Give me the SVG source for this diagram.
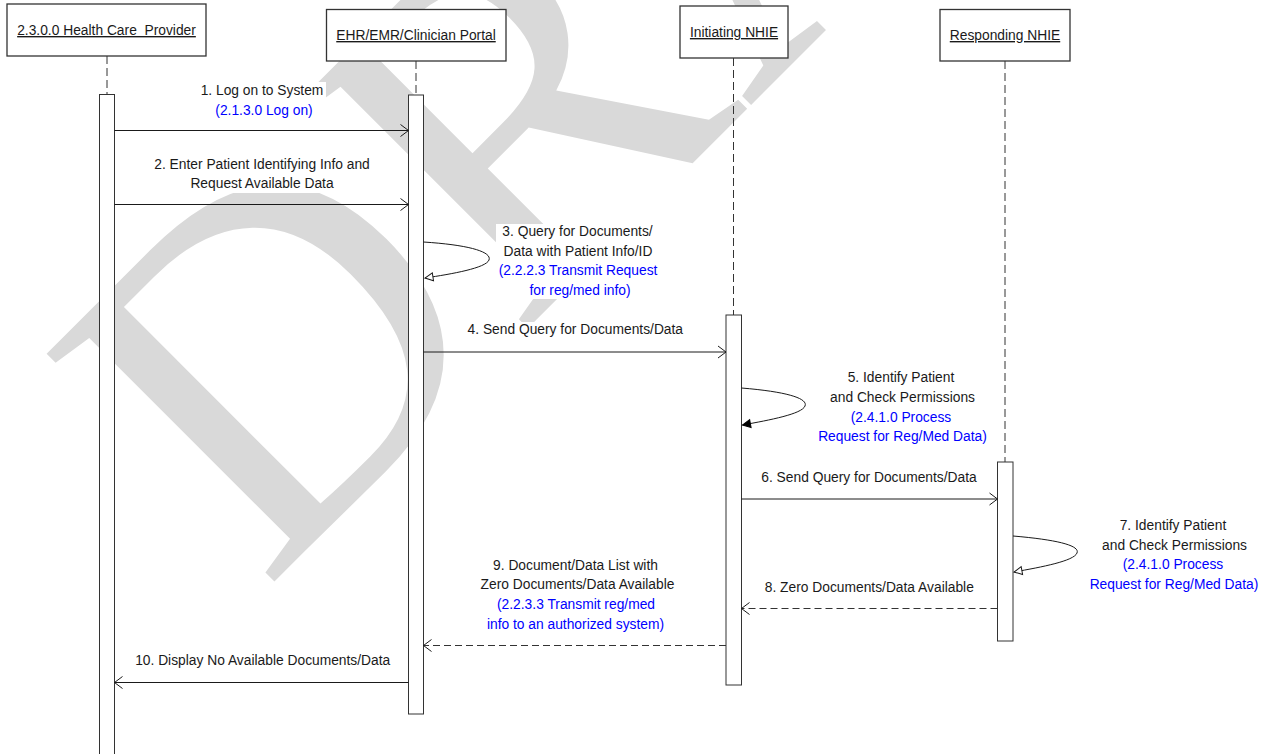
<svg xmlns="http://www.w3.org/2000/svg" width="1270" height="754" viewBox="0 0 1270 754">
<style>
.box{fill:#fff;stroke:#333;stroke-width:1.3}
.bar{fill:#fff;stroke:#333;stroke-width:1}
.life{stroke:#333;stroke-width:1;stroke-dasharray:8 4;fill:none}
.msg{stroke:#1a1a1a;stroke-width:1;fill:none}
.dash{stroke:#333;stroke-dasharray:7 4}
.t{font-family:"Liberation Sans",Arial,sans-serif;font-size:13.8px;fill:#1a1a1a;text-anchor:middle;white-space:pre}
.b{fill:#0000ff}
.u{text-decoration:underline}
.bg{fill:#fff}
.wm{font-family:"Liberation Serif","Times New Roman",serif;font-size:492px;fill:#d9d9d9}
</style>
<defs>
<marker id="open" viewBox="-10 -8 12 16" refX="0" refY="0" markerWidth="12" markerHeight="16" markerUnits="userSpaceOnUse" orient="auto"><path d="M-8,-6 L0,0 L-8,6" fill="none" stroke="#1a1a1a" stroke-width="1"/></marker>
<marker id="hollow" viewBox="-10 -6 12 12" refX="0" refY="0" markerWidth="12" markerHeight="12" markerUnits="userSpaceOnUse" orient="auto"><path d="M-8,-4 L0,0 L-8,4 Z" fill="#fff" stroke="#1a1a1a" stroke-width="1"/></marker>
<marker id="filled" viewBox="-10 -6 12 12" refX="0" refY="0" markerWidth="12" markerHeight="12" markerUnits="userSpaceOnUse" orient="auto"><path d="M-8,-4 L0,0 L-8,4 Z" fill="#000" stroke="#000" stroke-width="1"/></marker>
</defs>
<rect width="1270" height="754" fill="#fff"/>
<g id="watermark"><text class="wm" transform="translate(264.4,591.6) rotate(-45)">DRAFT</text></g>

<g id="lifelines">
<line class="life" x1="107" y1="56" x2="107" y2="94.5"/>
<line class="life" x1="416" y1="61" x2="416" y2="95"/>
<line class="life" x1="733.5" y1="58" x2="733.5" y2="315"/>
<line class="life" x1="1005" y1="61" x2="1005" y2="462"/>
</g>

<g id="provider">
<rect class="box" x="7" y="4" width="199" height="52"/>
<text class="t u" x="106.5" y="35">2.3.0.0 Health Care  Provider</text>
<rect class="bar" x="99.5" y="94.5" width="15" height="700"/>
</g>
<g id="ehr">
<rect class="box" x="326.5" y="9.5" width="179.5" height="51.5"/>
<text class="t u" x="416" y="40">EHR/EMR/Clinician Portal</text>
<rect class="bar" x="408.5" y="95" width="15" height="619"/>
</g>
<g id="initiating">
<rect class="box" x="680" y="6" width="108" height="52"/>
<text class="t u" x="734" y="37">Initiating NHIE</text>
<rect class="bar" x="726" y="315" width="15.5" height="370"/>
</g>
<g id="responding">
<rect class="box" x="940" y="9.5" width="130" height="51.5"/>
<text class="t u" x="1005" y="40">Responding NHIE</text>
<rect class="bar" x="997.5" y="462" width="15.5" height="179"/>
</g>

<g id="connectors">
<path class="msg" d="M114.5,130.5 L408.5,130.5" marker-end="url(#open)"/>
<path class="msg" d="M114.5,204.5 L408.5,204.5" marker-end="url(#open)"/>
<path class="msg" d="M423.5,242 C470,245 492,252 489,260 C486,268 452,274 425,278" marker-end="url(#hollow)"/>
<path class="msg" d="M423.5,352 L726,352" marker-end="url(#open)"/>
<path class="msg" d="M741.5,388 C790,392 808,399 805,406 C802,414 770,420 742.5,425" marker-end="url(#filled)"/>
<path class="msg" d="M741.5,499 L997.5,499" marker-end="url(#open)"/>
<path class="msg" d="M1013,536 C1060,540 1080,546 1077,553 C1074,561 1042,567 1014,572" marker-end="url(#hollow)"/>
<path class="msg dash" d="M997.5,608.5 L741.5,608.5" marker-end="url(#open)"/>
<path class="msg dash" d="M726,645.5 L423.5,645.5" marker-end="url(#open)"/>
<path class="msg" d="M408.5,682.5 L114.5,682.5" marker-end="url(#open)"/>
</g>

<g id="labels">
<g id="m1"><rect class="bg" x="199" y="82" width="127" height="37"/>
<text class="t" x="262" y="95">1. Log on to System</text>
<text class="t b" x="264" y="115">(2.1.3.0 Log on)</text></g>
<g id="m2"><rect class="bg" x="152" y="157" width="220" height="36"/>
<text class="t" x="262" y="168.5">2. Enter Patient Identifying Info and</text>
<text class="t" x="262" y="188">Request Available Data</text></g>
<g id="m3"><rect class="bg" x="496" y="224" width="164" height="75"/>
<text class="t" x="577.5" y="236">3. Query for Documents/</text>
<text class="t" x="578" y="255.5">Data with Patient Info/ID</text>
<text class="t b" x="578" y="275">(2.2.2.3 Transmit Request</text>
<text class="t b" x="580" y="294.5">for reg/med info)</text></g>
<g id="m4"><rect class="bg" x="465" y="322" width="221" height="16"/>
<text class="t" x="575.3" y="334">4. Send Query for Documents/Data</text></g>
<g id="m5"><rect class="bg" x="817" y="370" width="172" height="75"/>
<text class="t" x="901" y="381.5">5. Identify Patient</text>
<text class="t" x="902.5" y="401.5">and Check Permissions</text>
<text class="t b" x="901" y="421.5">(2.4.1.0 Process</text>
<text class="t b" x="902.5" y="441">Request for Reg/Med Data)</text></g>
<g id="m6"><rect class="bg" x="759" y="470" width="220" height="16"/>
<text class="t" x="869" y="482">6. Send Query for Documents/Data</text></g>
<g id="m7"><rect class="bg" x="1089" y="518" width="171" height="75"/>
<text class="t" x="1173" y="530">7. Identify Patient</text>
<text class="t" x="1174.5" y="549.5">and Check Permissions</text>
<text class="t b" x="1173" y="569">(2.4.1.0 Process</text>
<text class="t b" x="1174" y="588.5">Request for Reg/Med Data)</text></g>
<g id="m8"><rect class="bg" x="762" y="580" width="215" height="16"/>
<text class="t" x="869.3" y="592">8. Zero Documents/Data Available</text></g>
<g id="m9"><rect class="bg" x="478" y="557" width="199" height="76"/>
<text class="t" x="575.5" y="569.5">9. Document/Data List with</text>
<text class="t" x="577.5" y="589">Zero Documents/Data Available</text>
<text class="t b" x="576" y="609">(2.2.3.3 Transmit reg/med</text>
<text class="t b" x="575.5" y="628.5">info to an authorized system)</text></g>
<g id="m10"><rect class="bg" x="133" y="653" width="259" height="16"/>
<text class="t" x="262.7" y="665">10. Display No Available Documents/Data</text></g>
</g>
</svg>
